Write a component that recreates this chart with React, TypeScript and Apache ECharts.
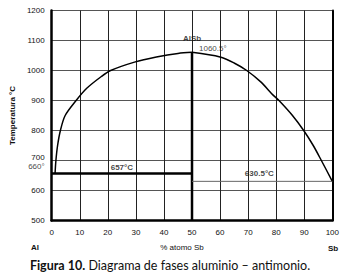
import React, { useEffect, useRef } from "react";
import * as echarts from "echarts";

const xTicks = [0, 10, 20, 30, 40, 50, 60, 70, 80, 90, 100];
const yTicks = [500, 600, 700, 800, 900, 1000, 1100, 1200];

// liquidus, Al side (x = % atomo Sb, y = °C)
const liquidusAlX = [1.2, 1.5, 2.1, 3.1, 4.8, 8.7, 12.4, 17.7, 21, 29.5, 37.3, 45, 50];
const liquidusAlY = [657, 700, 750, 800, 850, 900, 940, 980, 1000, 1028, 1045, 1057, 1060.5];
// liquidus, Sb side
const liquidusSbX = [50, 60, 65, 69.5, 74.5, 78.9, 81, 85.8, 89.8, 93.2, 96.1, 100];
const liquidusSbY = [1060.5, 1045, 1025, 1000, 962, 918, 900, 850, 800, 750, 700, 630.5];

const compoundX = 50;
const compoundMelt = 1060.5;
const eutecticAl = 657;
const eutecticSb = 630.5;

const annotations = [
  { x: 50, y: 1108, text: "AlSb", bold: true, align: "center" },
  { x: 52.5, y: 1074, text: "1060.5°", bold: false, align: "left" },
  { x: 25, y: 676, text: "657°C", bold: true, align: "center" },
  { x: 74, y: 657, text: "630.5°C", bold: true, align: "center" },
];

const FONT = "Liberation Sans";

export default function App() {
  const ref = useRef<HTMLDivElement>(null);
  useEffect(() => {
    const chart = echarts.init(ref.current!, null, { renderer: "svg" });
    const zip = (xs: number[], ys: number[]) => xs.map((x, i) => [x, ys[i]]);
    chart.setOption({
      animation: false,
      backgroundColor: "#fff",
      grid: { left: 35, top: 10.5, width: 300, height: 210 },
      xAxis: {
        type: "value",
        min: xTicks[0],
        max: xTicks[xTicks.length - 1],
        interval: 10,
        axisLine: { show: true, onZero: false, lineStyle: { color: "#000", width: 2.5 } },
        axisTick: { show: false },
        axisLabel: { color: "#111", fontFamily: FONT, fontSize: 8, margin: 8, formatter: (v: number) => String(v) },
        splitLine: { show: true, lineStyle: { color: "#222", width: 1 } },
      },
      yAxis: [
        {
          type: "value",
          min: yTicks[0],
          max: yTicks[yTicks.length - 1],
          interval: 100,
          name: "Temperatura °C",
          nameLocation: "middle",
          nameGap: 25,
          nameTextStyle: { color: "#111", fontFamily: FONT, fontSize: 8, fontWeight: "bold" },
          axisLine: { show: true, lineStyle: { color: "#000", width: 2.5 } },
          axisTick: { show: false },
          axisLabel: {
            color: "#111",
            fontFamily: FONT,
            fontSize: 8,
            margin: 7,
            formatter: (v: number) => (v === 700 ? `{up|${v}}` : String(v)),
            rich: { up: { color: "#111", fontFamily: FONT, fontSize: 8, lineHeight: 8, padding: [0, 0, 7, 0] } },
          },
          splitLine: { show: true, lineStyle: { color: "#555", width: 1 } },
        },
        {
          type: "value",
          min: yTicks[0],
          max: yTicks[yTicks.length - 1],
          interval: 100,
          position: "right",
          axisLine: { show: true, lineStyle: { color: "#000", width: 2 } },
          axisTick: { show: false },
          axisLabel: { show: false },
          splitLine: { show: false },
        },
      ],
      graphic: [
        {
          type: "text",
          x: 35,
          y: 247,
          style: { text: "Al", font: `bold 8px ${FONT}`, fill: "#111", align: "center", verticalAlign: "middle" },
        },
        {
          type: "text",
          x: 182,
          y: 247,
          style: { text: "% atomo Sb", font: `8px ${FONT}`, fill: "#111", align: "center", verticalAlign: "middle" },
        },
        {
          type: "text",
          x: 333,
          y: 248,
          style: { text: "Sb", font: `bold 8px ${FONT}`, fill: "#111", align: "center", verticalAlign: "middle" },
        },
        {
          type: "text",
          x: 170,
          y: 265,
          style: {
            text: "{b|Figura 10.} Diagrama de fases aluminio – antimonio.",
            font: `12.5px Lato`,
            fill: "#111",
            align: "center",
            verticalAlign: "middle",
            rich: { b: { fontWeight: "bold", fontFamily: "Lato", fontSize: 12.5, fill: "#111" } },
          },
        },
      ],
      series: [
        {
          type: "line",
          data: zip(liquidusAlX, liquidusAlY),
          smooth: 0.3,
          showSymbol: false,
          lineStyle: { color: "#000", width: 1.5 },
        },
        {
          type: "line",
          data: zip(liquidusSbX, liquidusSbY),
          smooth: 0.3,
          showSymbol: false,
          lineStyle: { color: "#000", width: 1.5 },
        },
        {
          type: "line",
          data: [
            [compoundX, yTicks[0]],
            [compoundX, compoundMelt],
          ],
          showSymbol: false,
          lineStyle: { color: "#000", width: 2.5 },
        },
        {
          type: "line",
          data: [
            [0, eutecticAl],
            [compoundX, eutecticAl],
          ],
          showSymbol: false,
          lineStyle: { color: "#000", width: 2.5 },
        },
        {
          type: "line",
          data: [
            [compoundX, eutecticSb],
            [100, eutecticSb],
          ],
          showSymbol: false,
          lineStyle: { color: "#666", width: 1 },
        },
        {
          type: "scatter",
          symbolSize: 0,
          silent: true,
          itemStyle: { color: "#111" },
          data: annotations.map((a) => ({
            value: [a.x, a.y],
            label: {
              show: true,
              position: [0, 0],
              formatter: a.text,
              align: a.align,
              verticalAlign: "middle",
              color: "#111",
              fontFamily: FONT,
              fontSize: 8,
              fontWeight: a.bold ? "bold" : "normal",
            },
          })),
        },
        {
          type: "scatter",
          symbolSize: 0,
          silent: true,
          itemStyle: { color: "#111" },
          data: [
            {
              value: [0, 680],
              label: {
                show: true,
                position: [-7, 0],
                align: "right",
                verticalAlign: "middle",
                lineHeight: 8,
                formatter: "660°",
                color: "#111",
                fontFamily: FONT,
                fontSize: 8,
              },
            },
          ],
        },
      ],
    });
    return () => chart.dispose();
  }, []);
  return (
    <div
      ref={ref}
      style={{ position: "fixed", left: 0, top: 0, width: 342, height: 279 }}
    />
  );
}
